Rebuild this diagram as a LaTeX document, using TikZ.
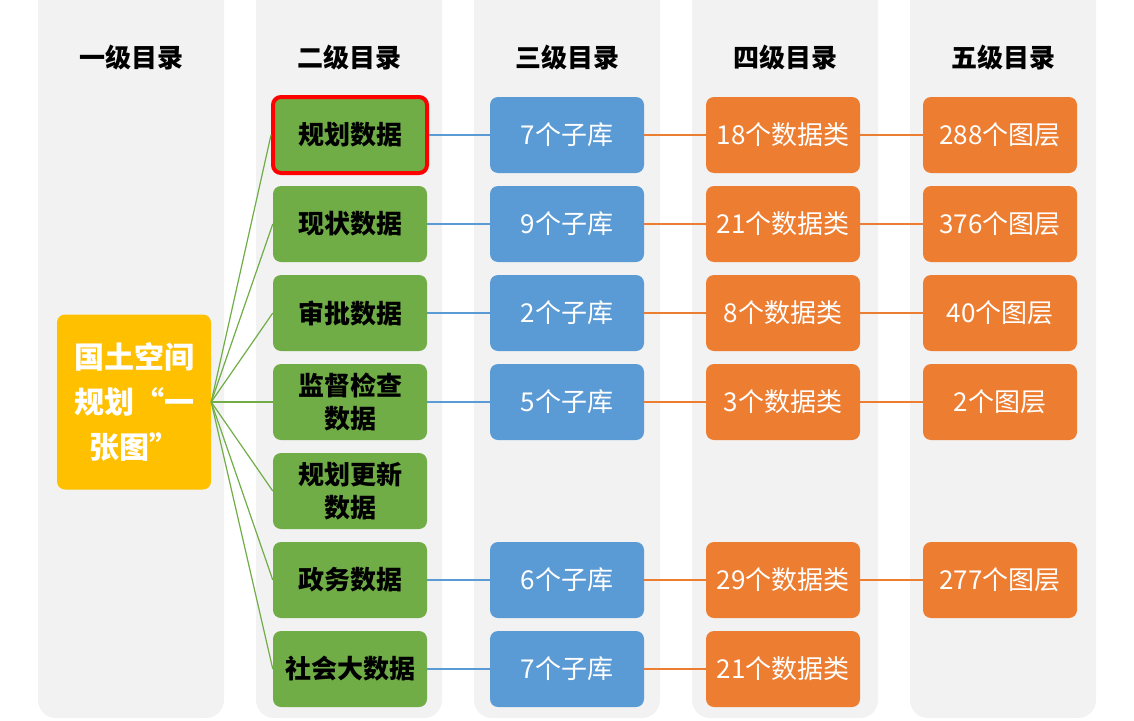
\documentclass[tikz,border=0pt]{standalone}
\usepackage{fontspec}
\newfontfamily\cjk{Noto Sans CJK SC}
\usepackage{tikz}
\usetikzlibrary{shapes}

\definecolor{colbg}{HTML}{F2F2F2}
\definecolor{lvgreen}{HTML}{70AD47}
\definecolor{lvblue}{HTML}{5B9BD5}
\definecolor{lvorange}{HTML}{ED7D31}
\definecolor{lvyellow}{HTML}{FFC000}

\begin{document}
\begin{tikzpicture}[x=1pt,y=-1pt,
		column/.style={fill=colbg,rounded corners=18pt},
		header/.style={font=\cjk\bfseries\fontsize{26}{30}\selectfont,text=black},
		box/.style={rectangle,rounded corners=8pt,minimum width=154pt,minimum height=76pt,inner sep=0pt,align=center},
		gbox/.style={box,fill=lvgreen,font=\cjk\bfseries\fontsize{26}{33}\selectfont,text=black},
		bbox/.style={box,fill=lvblue,font=\cjk\fontsize{26}{30}\selectfont,text=white},
		obox/.style={box,fill=lvorange,font=\cjk\fontsize{26}{30}\selectfont,text=white},
		rootbox/.style={box,fill=lvyellow,minimum height=175pt,font=\cjk\bfseries\fontsize{30}{45}\selectfont,text=white},
		gline/.style={draw=lvgreen,line width=1.2pt},
		bline/.style={draw=lvblue,line width=1.2pt},
		oline/.style={draw=lvorange,line width=1.2pt}]
			\clip (0,0) rectangle (1134,720);
			% column backgrounds
			\fill[column] (38,-30) rectangle (224,718);
			\fill[column] (256,-30) rectangle (442,718);
			\fill[column] (474,-30) rectangle (660,718);
			\fill[column] (692,-30) rectangle (878,718);
			\fill[column] (910,-30) rectangle (1096,718);
			
			\node[header] (h1) at (131,58) {一级目录};
			\node[header] (h2) at (349,58) {二级目录};
			\node[header] (h3) at (567,58) {三级目录};
			\node[header] (h4) at (785,58) {四级目录};
			\node[header] (h5) at (1003,58) {五级目录};
			
			\node[rootbox] (root) at (134,402) {国土空间\\规划“一\\张图”};
			
			\node[gbox,draw=red,line width=4pt] (g1) at (350,135) {规划数据};
			\node[gbox] (g2) at (350,224) {现状数据};
			\node[gbox] (g3) at (350,313) {审批数据};
			\node[gbox] (g4) at (350,402) {监督检查\\数据};
			\node[gbox] (g5) at (350,491) {规划更新\\数据};
			\node[gbox] (g6) at (350,580) {政务数据};
			\node[gbox] (g7) at (350,669) {社会大数据};
			
			\node[bbox] (b1) at (567,135) {7个子库};
			\node[bbox] (b2) at (567,224) {9个子库};
			\node[bbox] (b3) at (567,313) {2个子库};
			\node[bbox] (b4) at (567,402) {5个子库};
			\node[bbox] (b6) at (567,580) {6个子库};
			\node[bbox] (b7) at (567,669) {7个子库};
			
			\node[obox] (c1) at (783,135) {18个数据类};
			\node[obox] (c2) at (783,224) {21个数据类};
			\node[obox] (c3) at (783,313) {8个数据类};
			\node[obox] (c4) at (783,402) {3个数据类};
			\node[obox] (c6) at (783,580) {29个数据类};
			\node[obox] (c7) at (783,669) {21个数据类};
			
			\node[obox] (l1) at (1000,135) {288个图层};
			\node[obox] (l2) at (1000,224) {376个图层};
			\node[obox] (l3) at (1000,313) {40个图层};
			\node[obox] (l4) at (1000,402) {2个图层};
			\node[obox] (l6) at (1000,580) {277个图层};
			
			\path[gline] (root.east) -- (g1.west);
			\path[gline] (root.east) -- (g2.west);
			\path[gline] (root.east) -- (g3.west);
			\path[gline] (root.east) -- (g4.west);
			\path[gline] (root.east) -- (g5.west);
			\path[gline] (root.east) -- (g6.west);
			\path[gline] (root.east) -- (g7.west);
			
			\path[bline] (g1) -- (b1);
			\path[bline] (g2) -- (b2);
			\path[bline] (g3) -- (b3);
			\path[bline] (g4) -- (b4);
			\path[bline] (g6) -- (b6);
			\path[bline] (g7) -- (b7);
			
			\path[oline] (b1) -- (c1);
			\path[oline] (b2) -- (c2);
			\path[oline] (b3) -- (c3);
			\path[oline] (b4) -- (c4);
			\path[oline] (b6) -- (c6);
			\path[oline] (b7) -- (c7);
			
			\path[oline] (c1) -- (l1);
			\path[oline] (c2) -- (l2);
			\path[oline] (c3) -- (l3);
			\path[oline] (c4) -- (l4);
			\path[oline] (c6) -- (l6);
		\end{tikzpicture}
\end{document}
